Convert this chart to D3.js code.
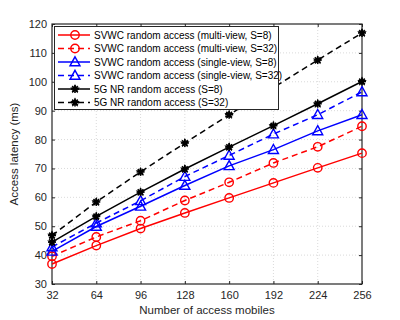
<!DOCTYPE html>
<html><head><meta charset="utf-8">
<script src="https://cdn.jsdelivr.net/npm/d3@7/dist/d3.min.js"></script>
<style>body{margin:0;background:#fff}svg{display:block}text{font-family:"Liberation Sans",Arial,sans-serif}</style>
</head><body><svg id="c" width="400" height="320"></svg>
<script>
const xValues = [32, 64, 96, 128, 160, 192, 224, 256];
const xTicks = [32, 64, 96, 128, 160, 192, 224, 256];
const yTicks = [30, 40, 50, 60, 70, 80, 90, 100, 110, 120];
const seriesNames = [
  "SVWC random access (multi-view, S=8)",
  "SVWC random access (multi-view, S=32)",
  "SVWC random access (single-view, S=8)",
  "SVWC random access (single-view, S=32)",
  "5G NR random access (S=8)",
  "5G NR random access (S=32)"
];
const multiS8  = [36.9, 43.3, 49.2, 54.6, 59.8, 65.0, 70.2, 75.3];
const multiS32 = [39.6, 46.3, 51.9, 58.9, 65.2, 71.9, 77.5, 84.6];
const singleS8 = [41.3, 49.9, 56.9, 64.1, 70.9, 76.5, 83.0, 88.6];
const singleS32= [42.8, 51.1, 58.8, 67.2, 74.5, 81.9, 88.6, 96.5];
const nrS8     = [44.5, 53.4, 61.8, 69.8, 77.4, 84.8, 92.4, 100.1];
const nrS32    = [46.8, 58.4, 68.8, 78.8, 88.6, 98.0, 107.5, 116.9];

const seriesValues = [multiS8, multiS32, singleS8, singleS32, nrS8, nrS32];
const colors = ["#ff0000","#ff0000","#0000ff","#0000ff","#000000","#000000"];
const dashed = [false,true,false,true,false,true];
const markers = ["circle","circle","triangle","triangle","star","star"];

const svg = d3.select("#c");
const L=52, R=362, T=24, B=284;
const x = d3.scaleLinear().domain([32,256]).range([L,R]);
const y = d3.scaleLinear().domain([30,120]).range([B,T]);

// grid
const g = svg.append("g");
g.selectAll(".gx").data(xTicks.slice(1,-1)).enter().append("line")
  .attr("x1",d=>x(d)).attr("x2",d=>x(d)).attr("y1",T).attr("y2",B)
  .attr("stroke","#d0d0d0").attr("stroke-width",0.8).attr("stroke-dasharray","1,2");
g.selectAll(".gy").data(yTicks.slice(1,-1)).enter().append("line")
  .attr("y1",d=>y(d)).attr("y2",d=>y(d)).attr("x1",L).attr("x2",R)
  .attr("stroke","#d0d0d0").attr("stroke-width",0.8).attr("stroke-dasharray","1,2");

// axes
const ax = (sel)=>{sel.selectAll(".domain").remove();sel.selectAll("text").attr("font-size",11).attr("fill","#262626");sel.selectAll("line").attr("stroke","#262626");};
svg.append("g").attr("transform",`translate(0,${B})`)
  .call(d3.axisBottom(x).tickValues(xTicks).tickSize(-3).tickPadding(7)).call(ax);
svg.append("g").attr("transform",`translate(${L},0)`)
  .call(d3.axisLeft(y).tickValues(yTicks).tickSize(-3).tickPadding(5)).call(ax);
svg.append("g").attr("transform",`translate(0,${T})`)
  .call(d3.axisTop(x).tickValues(xTicks).tickSize(-3).tickFormat("")).call(ax);
svg.append("g").attr("transform",`translate(${R},0)`)
  .call(d3.axisRight(y).tickValues(yTicks).tickSize(-3).tickFormat("")).call(ax);
svg.append("rect").attr("x",L).attr("y",T).attr("width",R-L).attr("height",B-T)
  .attr("fill","none").attr("stroke","#262626").attr("stroke-width",1.2);

// labels
svg.append("text").attr("x",(L+R)/2).attr("y",314).attr("text-anchor","middle")
  .attr("font-size",11.5).attr("fill","#262626").text("Number of access mobiles");
svg.append("text").attr("transform",`translate(18,${(T+B)/2}) rotate(-90)`).attr("text-anchor","middle")
  .attr("font-size",11.5).attr("fill","#262626").text("Access latency (ms)");

function drawMarker(sel, type, color, cx, cy){
  if(type==="circle"){
    sel.append("circle").attr("cx",cx).attr("cy",cy).attr("r",4.2)
      .attr("fill","none").attr("stroke",color).attr("stroke-width",1.4);
  } else if(type==="triangle"){
    sel.append("path").attr("transform",`translate(${cx},${cy})`)
      .attr("d","M0,-5.2L5,3.8L-5,3.8Z").attr("fill","none").attr("stroke",color).attr("stroke-width",1.4);
  } else {
    const s = sel.append("g").attr("transform",`translate(${cx},${cy})`);
    s.append("path").attr("d",d3.symbol().type(d3.symbolStar).size(30)()).attr("fill",color);
    [0,45,90,135].forEach(a=>{
      s.append("line").attr("x1",-4).attr("x2",4).attr("y1",0).attr("y2",0)
        .attr("transform",`rotate(${a})`).attr("stroke",color).attr("stroke-width",1.6);
    });
  }
}

const line = d3.line().x((d,i)=>x(xValues[i])).y(d=>y(d));
seriesValues.forEach((vals,k)=>{
  const sg = svg.append("g");
  sg.append("path").datum(vals).attr("d",line).attr("fill","none")
    .attr("stroke",colors[k]).attr("stroke-width",1.5)
    .attr("stroke-dasharray",dashed[k]?"6,4":null);
  vals.forEach((v,i)=>drawMarker(sg,markers[k],colors[k],x(xValues[i]),y(v)));
});

// legend
const lg = svg.append("g");
lg.append("rect").attr("x",54.5).attr("y",26.5).attr("width",224).attr("height",83)
  .attr("fill","#fff").attr("stroke","#262626").attr("stroke-width",1);
seriesNames.forEach((n,k)=>{
  const yy = 35 + k*13.5;
  lg.append("line").attr("x1",58).attr("x2",90).attr("y1",yy).attr("y2",yy)
    .attr("stroke",colors[k]).attr("stroke-width",1.5).attr("stroke-dasharray",dashed[k]?"6,4":null);
  drawMarker(lg,markers[k],colors[k],75,yy);
  lg.append("text").attr("x",94).attr("y",yy).attr("dy","0.35em")
    .attr("font-size",10).attr("fill","#000").text(n);
});
</script></body></html>
